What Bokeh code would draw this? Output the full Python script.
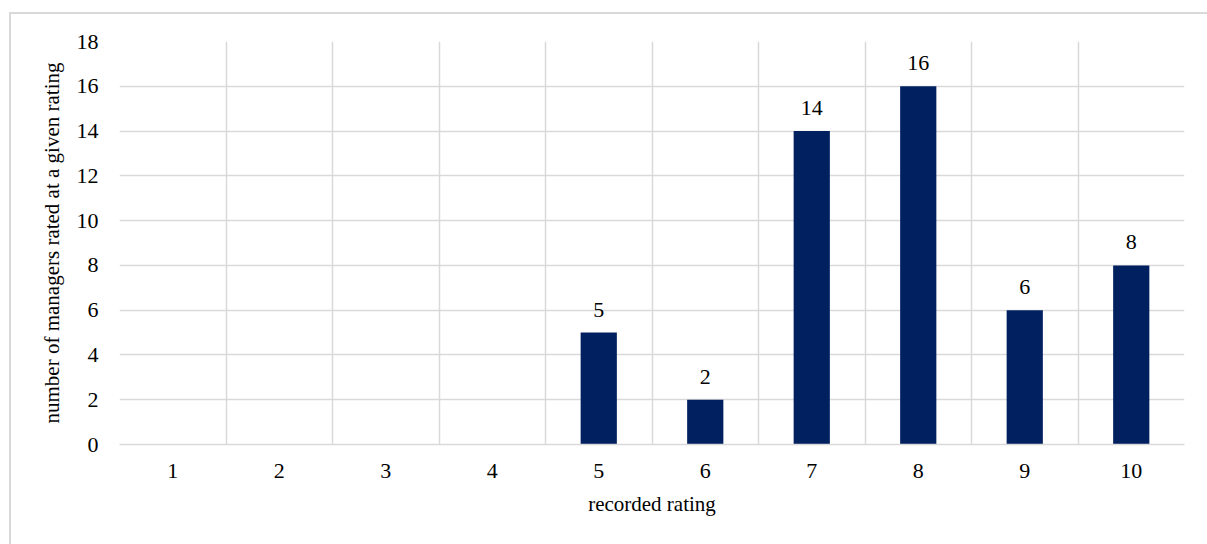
from bokeh.plotting import figure
from bokeh.models import FixedTicker, Range1d, ColumnDataSource
from bokeh.embed import file_html
from bokeh.resources import INLINE

# Ratings recorded for each manager and how many received each one
ratings = [1, 2, 3, 4, 5, 6, 7, 8, 9, 10]
counts = [0, 0, 0, 0, 5, 2, 14, 16, 6, 8]
y_ticks = [0, 2, 4, 6, 8, 10, 12, 14, 16, 18]

FONT = "Liberation Serif"
GRID = "#d9d9d9"
BAR = "#002060"

p = figure(
    width=1198, height=532,
    x_range=Range1d(0.5, 10.5), y_range=Range1d(0, 18),
    output_backend="svg", toolbar_location=None,
    min_border_left=108, min_border_right=25,
    min_border_top=27, min_border_bottom=102,
    background_fill_color="white", border_fill_color="white",
)
p.margin = (12, 0, 0, 9)
p.styles = {"border-left": f"2px solid {GRID}", "border-top": f"2px solid {GRID}"}
p.outline_line_color = None

bars = ColumnDataSource(dict(x=ratings, top=counts))
p.vbar(x="x", top="top", width=0.34, bottom=0, source=bars,
       fill_color=BAR, line_color=None)

# value labels above the non-empty bars
lab_x = [r for r, c in zip(ratings, counts) if c > 0]
lab_y = [c for c in counts if c > 0]
labels = ColumnDataSource(dict(x=lab_x, y=lab_y, t=[str(c) for c in lab_y]))
p.text(x="x", y="y", text="t", source=labels, text_align="center",
       text_baseline="alphabetic", y_offset=-23,
       text_font=FONT, text_font_size="22px", text_color="black")

# grid: horizontal at each y tick, vertical at category boundaries
p.ygrid.ticker = FixedTicker(ticks=y_ticks)
p.ygrid.grid_line_color = GRID
p.ygrid.grid_line_width = 1.5
p.xgrid.ticker = FixedTicker(ticks=[r - 0.5 for r in ratings] + [ratings[-1] + 0.5])
p.xgrid.grid_line_color = GRID
p.xgrid.grid_line_width = 1.5

xa = p.xaxis[0]
xa.ticker = FixedTicker(ticks=ratings)
xa.axis_line_color = GRID
xa.axis_line_width = 1.5
xa.major_tick_line_color = None
xa.minor_tick_line_color = None
xa.major_label_standoff = 13
xa.major_label_text_font = FONT
xa.major_label_text_font_size = "22px"
xa.major_label_text_color = "black"
xa.axis_label = "recorded rating"
xa.axis_label_text_font = FONT
xa.axis_label_text_font_size = "21px"
xa.axis_label_text_font_style = "normal"
xa.axis_label_text_color = "black"
xa.axis_label_standoff = 11

ya = p.yaxis[0]
ya.ticker = FixedTicker(ticks=y_ticks)
ya.axis_line_color = None
ya.major_tick_line_color = None
ya.minor_tick_line_color = None
ya.major_label_standoff = 15
ya.major_label_text_font = FONT
ya.major_label_text_font_size = "22px"
ya.major_label_text_color = "black"
ya.axis_label = "number of managers rated at a given rating"
ya.axis_label_text_font = FONT
ya.axis_label_text_font_size = "21px"
ya.axis_label_text_font_style = "normal"
ya.axis_label_text_color = "black"
ya.axis_label_standoff = 10

open("out.html", "w").write(file_html(p, INLINE))
